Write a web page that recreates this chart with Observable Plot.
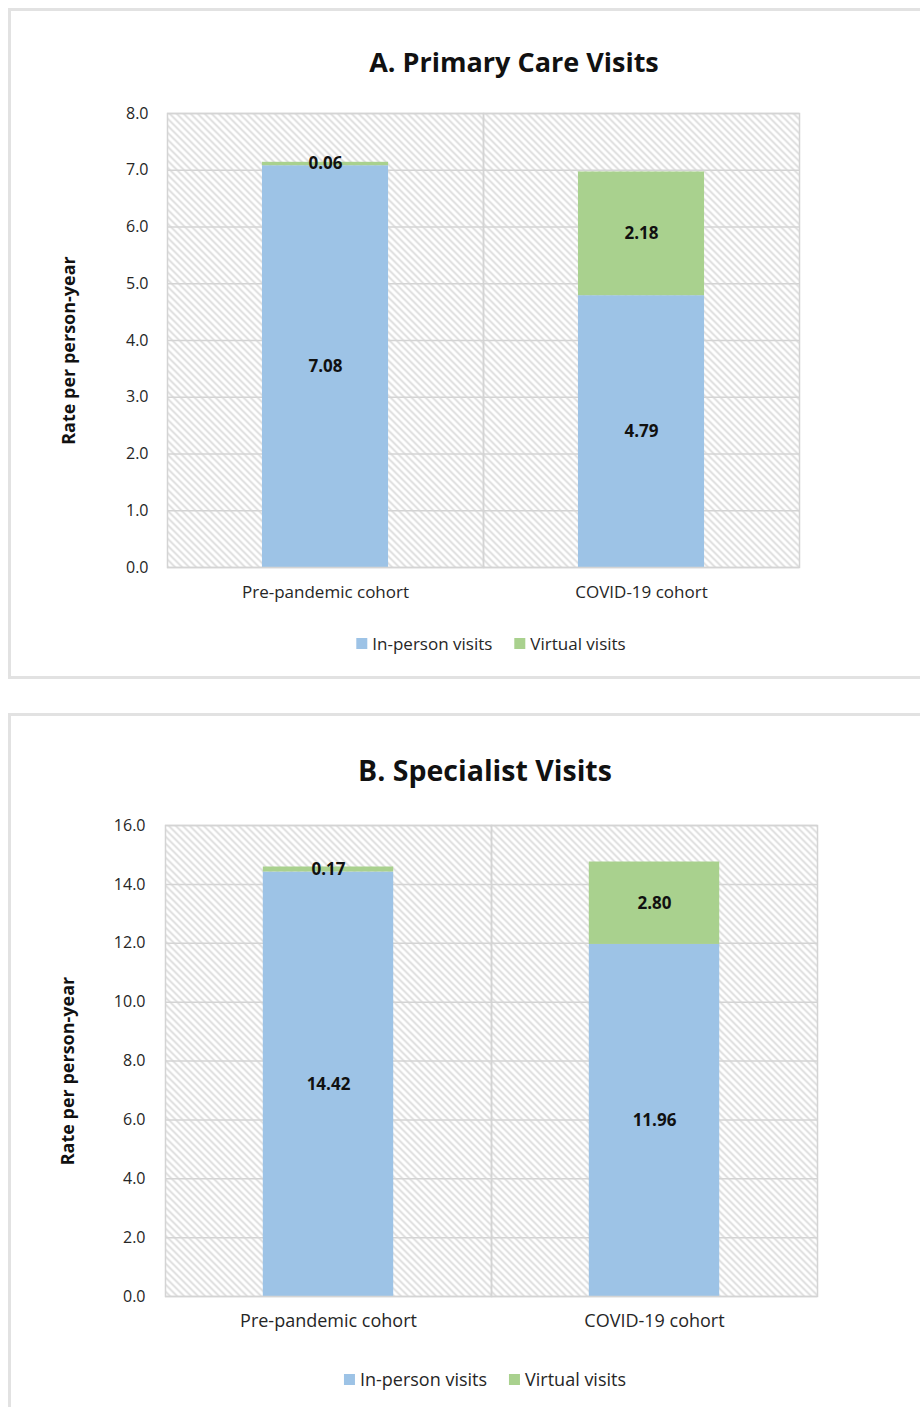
<!DOCTYPE html>
<html>
<head>
<meta charset="utf-8">
<script src="https://cdn.jsdelivr.net/npm/d3@7"></script>
<script src="https://cdn.jsdelivr.net/npm/@observablehq/plot@0.6"></script>
<style>
  html, body { margin: 0; padding: 0; background: #fff; }
  body { width: 920px; height: 1407px; position: relative; overflow: hidden; font-family: "Open Sans", sans-serif; }
  .panel { position: absolute; left: 8px; width: 940px; box-sizing: border-box; border: 3px solid #e2e2e2; background: #fff; }
  .title { position: absolute; font-weight: 700; color: #111; white-space: nowrap; transform: translateX(-50%); }
  .chart { position: absolute; left: 4px; }
  .legend { position: absolute; display: flex; align-items: center; white-space: nowrap; transform: translateX(-50%); color: #262626; }
  .legend .sw { display: inline-block; width: 11px; height: 11px; margin-right: 5px; }
  .legend .item { display: flex; align-items: center; margin-right: 22px; }
  .legend .item:last-child { margin-right: 0; }
  svg g[aria-label="y-axis label"] text { font-weight: 700; font-size: 18px; fill: #111; }
</style>
</head>
<body>
<div id="panelA" class="panel" style="top:8px; height:671px;"></div>
<div id="panelB" class="panel" style="top:713px; height:720px;"></div>
<script>
// ---- data ----
const cohorts = ["Pre-pandemic cohort", "COVID-19 cohort"];
const visitTypes = ["In-person visits", "Virtual visits"];
const typeColors = ["#9dc3e6", "#a9d18e"];

const titleA = "A. Primary Care Visits";
const inPersonA = [7.08, 4.79];
const virtualA = [0.06, 2.18];
const ticksA = [0, 1, 2, 3, 4, 5, 6, 7, 8];

const titleB = "B. Specialist Visits";
const inPersonB = [14.42, 11.96];
const virtualB = [0.17, 2.80];
const ticksB = [0, 2, 4, 6, 8, 10, 12, 14, 16];

const yLabel = "Rate per person-year";

function buildPanel(cfg) {
  const panel = document.getElementById(cfg.id);
  const rows = [];
  cohorts.forEach((c, i) => {
    rows.push({cohort: c, type: visitTypes[0], value: cfg.inPerson[i]});
    rows.push({cohort: c, type: visitTypes[1], value: cfg.virtual[i]});
  });
  const facetW = (cfg.width - cfg.ml - cfg.mr) / 2;
  const inset = facetW * cfg.insetFrac;
  const hatchId = "hatch-" + cfg.id;

  const svg = Plot.plot({
    width: cfg.width,
    height: cfg.height,
    marginLeft: cfg.ml,
    marginRight: cfg.mr,
    marginTop: cfg.mt,
    marginBottom: cfg.mb,
    style: {fontFamily: "'Open Sans', sans-serif", fontSize: cfg.tickFont + "px", color: "#262626", background: "transparent", overflow: "visible"},
    fx: {domain: cohorts, padding: 0},
    y: {domain: [0, cfg.ticks[cfg.ticks.length - 1]]},
    color: {domain: visitTypes, range: typeColors},
    marks: [
      Plot.frame({fill: `url(#${hatchId})`, stroke: "none"}),
      Plot.gridY(cfg.ticks, {stroke: "#d4d4d4", strokeOpacity: 1, strokeWidth: 1.5}),
      Plot.barY(rows, Plot.stackY({fx: "cohort", y: "value", fill: "type", insetLeft: inset, insetRight: inset})),
      Plot.text(rows, Plot.stackY({fx: "cohort", y: "value", text: d => d.value.toFixed(2), fontWeight: 700, fontSize: cfg.valueFont, fill: "#111"})),
      Plot.frame({stroke: "#d4d4d4", strokeWidth: 1.5}),
      Plot.axisY(cfg.ticks, {tickSize: 0, tickPadding: cfg.tickPad, tickFormat: d3.format(".1f"), label: yLabel, labelAnchor: "center", labelArrow: "none", labelOffset: cfg.labelOffset, fill: "#262626"}),
      Plot.axisFx({anchor: "bottom", tickSize: 0, tickPadding: cfg.catPad, label: null, fontSize: cfg.catFont, fill: "#262626"})
    ]
  });

  const ns = "http://www.w3.org/2000/svg";
  const defs = document.createElementNS(ns, "defs");
  defs.innerHTML = `<pattern id="${hatchId}" patternUnits="userSpaceOnUse" width="7" height="7">
      <rect width="7" height="7" fill="#ffffff"/>
      <path d="M-1,-1 L8,8 M-1,6 L1,8 M6,-1 L8,1" stroke="#d9d9d9" stroke-width="1.6"/>
    </pattern>`;
  svg.insertBefore(defs, svg.firstChild);
  // nudge the rotated y-axis title slightly downward
  svg.querySelectorAll('g[aria-label="y-axis label"] text').forEach(t => t.setAttribute("dx", String(-cfg.labelShift)));

  svg.classList.add("chart");
  svg.style.top = cfg.svgTop + "px";
  panel.appendChild(svg);

  const t = document.createElement("div");
  t.className = "title";
  t.textContent = cfg.title;
  t.style.left = cfg.titleX + "px";
  t.style.top = cfg.titleY + "px";
  t.style.fontSize = cfg.titleFont + "px";
  panel.appendChild(t);

  const lg = document.createElement("div");
  lg.className = "legend";
  lg.style.left = cfg.legendX + "px";
  lg.style.top = cfg.legendY + "px";
  lg.style.fontSize = cfg.legendFont + "px";
  visitTypes.forEach((name, i) => {
    const it = document.createElement("span");
    it.className = "item";
    const sw = document.createElement("span");
    sw.className = "sw";
    sw.style.background = typeColors[i];
    it.appendChild(sw);
    it.appendChild(document.createTextNode(name));
    lg.appendChild(it);
  });
  panel.appendChild(lg);
}

// panel A
buildPanel({
  id: "panelA", title: titleA, inPerson: inPersonA, virtual: virtualA, ticks: ticksA,
  width: 910, height: 507, ml: 151, mr: 126, mt: 13, mb: 40, svgTop: 89,
  insetFrac: 0.3, tickFont: 16, tickPad: 19, labelOffset: 105, labelShift: 10, catFont: 17, catPad: 18, valueFont: 17,
  titleX: 503, titleY: 32, titleFont: 27,
  legendX: 480, legendY: 621, legendFont: 17
});

// panel B
buildPanel({
  id: "panelB", title: titleB, inPerson: inPersonB, virtual: virtualB, ticks: ticksB,
  width: 910, height: 524, ml: 150, mr: 108, mt: 13, mb: 40, svgTop: 96,
  insetFrac: 0.3, tickFont: 16, tickPad: 20, labelOffset: 104, labelShift: 10, catFont: 18, catPad: 18, valueFont: 17,
  titleX: 474, titleY: 35, titleFont: 28.5,
  legendX: 474, legendY: 651, legendFont: 18
});
</script>
</body>
</html>
